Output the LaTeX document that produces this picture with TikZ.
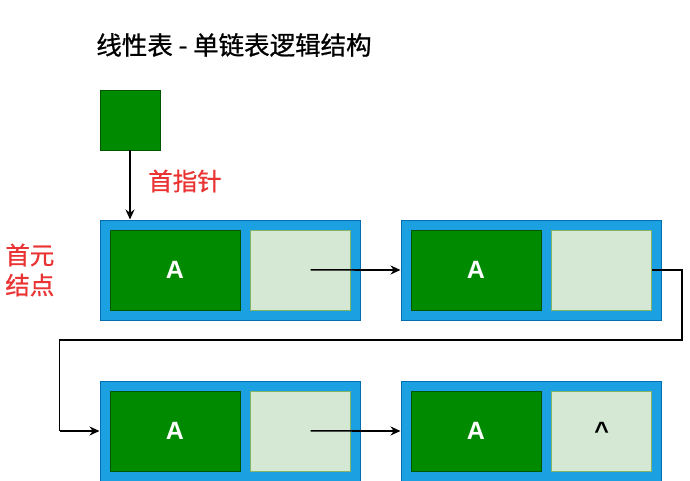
\documentclass[tikz,border=0pt]{standalone}
\usepackage{fontspec}
\setmainfont{Noto Sans CJK SC}
\newfontfamily\semifont[FakeBold=0.8]{Noto Sans CJK SC}
\newfontfamily\cellfont{Liberation Sans}
\usetikzlibrary{arrows.meta,positioning}
\definecolor{cellblue}{RGB}{27,161,226}
\definecolor{cellblueline}{RGB}{0,110,175}
\definecolor{datagreen}{RGB}{0,138,0}
\definecolor{datagreenline}{RGB}{0,87,0}
\definecolor{softgreen}{RGB}{213,232,212}
\definecolor{softgreenline}{RGB}{130,179,102}
\definecolor{labelred}{RGB}{234,51,51}

\begin{document}
\begin{tikzpicture}[x=1pt,y=-1pt,
    outer/.style={draw=cellblueline,fill=cellblue,line width=1pt,
      minimum width=260pt,minimum height=100pt,inner sep=0pt},
    data/.style={draw=datagreenline,fill=datagreen,text=white,line width=0.8pt,
      minimum width=130pt,minimum height=80pt,inner sep=0pt,
      font=\cellfont\bfseries\fontsize{25pt}{30pt}\selectfont},
    nxt/.style={draw=softgreenline,fill=softgreen,line width=0.8pt,
      minimum width=100pt,minimum height=80pt,inner sep=0pt,
      font=\cellfont\bfseries\fontsize{25pt}{30pt}\selectfont},
    redlbl/.style={text=labelred,inner sep=0pt,align=center,
      font=\semifont\fontsize{24.5pt}{30pt}\selectfont},
    arr/.style={-{Stealth[length=10pt,width=9pt]},line width=1.6pt},
    link/.style={line width=1.6pt}
  ]
    \useasboundingbox (0,0) rectangle (690,481);
    \node[inner sep=0pt,font=\semifont\fontsize{25.5pt}{30pt}\selectfont] (title) at (234,45) {线性表 - 单链表逻辑结构};
    \node[draw=datagreenline,fill=datagreen,minimum size=60pt,inner sep=0pt] (head) at (130,120) {};
    \node[outer] (n1) at (230,270) {};
    \node[outer,right=40pt of n1] (n2) {};
    \node[outer,below=60pt of n1] (n3) {};
    \node[outer,right=40pt of n3] (n4) {};
    \node[data,below right=10pt and 10pt of n1.north west] (d1) {A};
    \node[nxt,right=10pt of d1] (p1) {};
    \node[data,below right=10pt and 10pt of n2.north west] (d2) {A};
    \node[nxt,right=10pt of d2] (p2) {};
    \node[data,below right=10pt and 10pt of n3.north west] (d3) {A};
    \node[nxt,right=10pt of d3] (p3) {};
    \node[data,below right=10pt and 10pt of n4.north west] (d4) {A};
    \node[nxt,right=10pt of d4] (p4) {\textasciicircum};
    \node[redlbl] (ptrlbl) at (185,181) {首指针};
    \node[redlbl,left=45pt of n1] (firstlbl) {首元\\结点};
    \draw[arr] (head.south) -- (head.south |- n1.north);
    \draw[arr] ([xshift=10pt]p1.center) -- (n2.west);
    \draw[link] (p2.east) -- ++(30,0) -- ++(0,70) -| ([xshift=-40pt]n3.west);
    \draw[arr] ([xshift=-40pt]n3.west) -- (n3.west);
    \draw[arr] ([xshift=10pt]p3.center) -- (n4.west);
  \end{tikzpicture}
\end{document}
